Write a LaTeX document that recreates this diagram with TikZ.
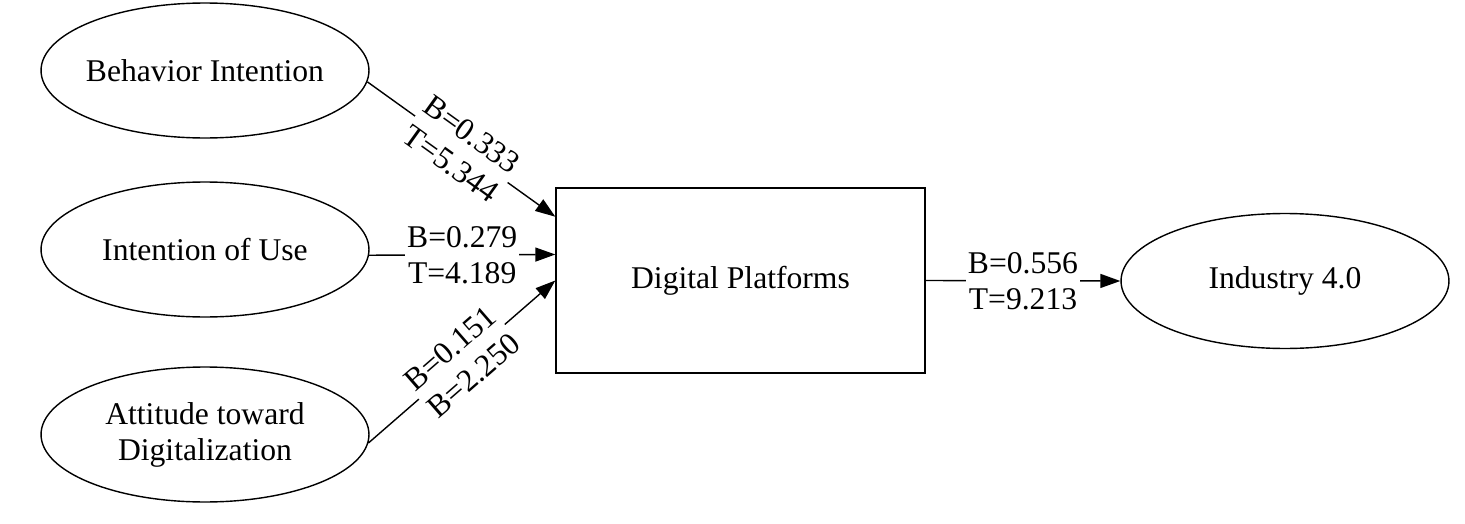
\documentclass[tikz,border=0pt]{standalone}
\usepackage{fontspec}
\setmainfont{Liberation Serif}
\usetikzlibrary{shapes.geometric, arrows.meta}

\begin{document}
\begin{tikzpicture}[
    x=0.02cm, y=-0.02cm,
    txt/.style={font=\fontsize{18}{20.5}\selectfont},
    construct/.style={ellipse, draw, txt, align=center, inner xsep=-15pt, inner ysep=0pt, minimum width=6.56cm, minimum height=2.7cm},
    box/.style={rectangle, draw, txt, minimum width=7.38cm, minimum height=3.7cm},
    coef/.style={txt, fill=white, inner sep=1pt, align=center},
    path/.style={line width=0.8pt, -{Triangle[length=4mm, width=2.8mm]}},
    every node/.append style={line width=0.8pt}
]
\useasboundingbox (0,0) rectangle (1465,524);

% Predictors
\node[construct] (bi) at (205,70.5) {Behavior Intention};
\node[construct] (iou) at (205,249.5) {Intention of Use};
\node[construct] (att) at (205,434.5) {Attitude toward\\Digitalization};

% Mediator
\node[box] (dp) at (740.5,280.5) {Digital Platforms};

% Outcome
\node[construct] (ind) at (1285,281) {Industry 4.0};

% Paths
\draw[path] (bi.-4.5) -- (dp.161.3) node[coef, midway, sloped] {B=0.333\\T=5.344};
\draw[path] (iou.-2.3) -- (dp.172.4) node[coef, midway] {B=0.279\\T=4.189};
\draw[path] (att.-3) -- (dp.180.8) node[coef, midway, sloped] {B=0.151\\B=2.250};
\draw[path] (dp.-0.5) -- (ind.180) node[coef, midway] {B=0.556\\T=9.213};

\end{tikzpicture}
\end{document}
